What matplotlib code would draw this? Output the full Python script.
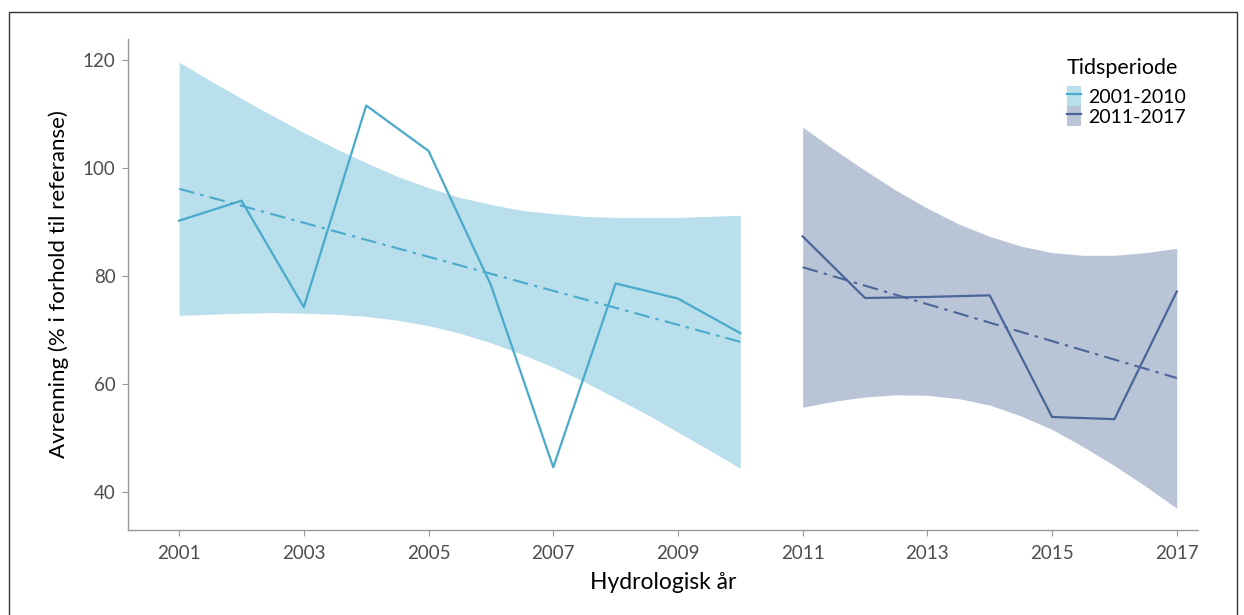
import numpy as np
import matplotlib
matplotlib.use("Agg")
import matplotlib.pyplot as plt
from matplotlib.patches import Patch, Rectangle
from matplotlib.lines import Line2D

plt.rcParams['font.family'] = ['Lato', 'DejaVu Sans']

# Runoff per hydrological year (% of reference)
years_p1 = [2001, 2002, 2003, 2004, 2005, 2006, 2007, 2008, 2009, 2010]
runoff_p1 = [90.2, 93.9, 74.2, 111.5, 103.1, 78.3, 44.6, 78.6, 75.8, 69.4]
years_p2 = [2011, 2012, 2013, 2014, 2015, 2016, 2017]
runoff_p2 = [87.3, 75.9, 76.1, 76.4, 53.9, 53.5, 77.1]

# Linear trend lines (read at period ends)
trend_x1 = [2001, 2010]
trend_y1 = [96.1, 67.8]
trend_x2 = [2011, 2017]
trend_y2 = [81.6, 61.1]

# Confidence bands, read every half year
band_x1 = np.arange(2001, 2010.01, 0.5)
band_hi1 = [119.5, 116.1, 112.8, 109.6, 106.5, 103.6, 100.9, 98.4, 96.3, 94.5,
            93.2, 92.1, 91.5, 91.0, 90.8, 90.8, 90.8, 91.0, 91.2]
band_lo1 = [72.7, 72.9, 73.1, 73.2, 73.1, 72.9, 72.5, 71.8, 70.8, 69.4,
            67.6, 65.5, 63.1, 60.4, 57.4, 54.4, 51.1, 47.8, 44.4]
band_x2 = np.arange(2011, 2017.01, 0.5)
band_hi2 = [107.5, 103.4, 99.5, 95.8, 92.5, 89.6, 87.3, 85.5, 84.3, 83.8, 83.8, 84.3, 85.1]
band_lo2 = [55.7, 56.8, 57.6, 58.0, 57.9, 57.3, 56.1, 54.1, 51.6, 48.4, 44.9, 41.1, 37.0]

periods = ['2001-2010', '2011-2017']
line_col = ['#4aaacb', '#4a6698']
band_col = ['#b8dfeb', '#bac4d7']

fig = plt.figure(figsize=(12.44, 6.15), dpi=100)
ax = fig.add_axes([0.1029, 0.1382, 0.8601, 0.7984])

ax.fill_between(band_x1, band_lo1, band_hi1, color=band_col[0], lw=0)
ax.fill_between(band_x2, band_lo2, band_hi2, color=band_col[1], lw=0)

dashdot = (0, (7.5, 3, 1.6, 3))
ax.plot(trend_x1, trend_y1, color=line_col[0], lw=1.5, linestyle=dashdot)
ax.plot(trend_x2, trend_y2, color=line_col[1], lw=1.5, linestyle=dashdot)
ax.plot(years_p1, runoff_p1, color=line_col[0], lw=1.6)
ax.plot(years_p2, runoff_p2, color=line_col[1], lw=1.6)

ax.set_xlim(2000.18, 2017.34)
ax.set_ylim(33.0, 123.8)
ax.set_xticks([2001, 2003, 2005, 2007, 2009, 2011, 2013, 2015, 2017])
ax.set_yticks([40, 60, 80, 100, 120])

for s in ['top', 'right']:
    ax.spines[s].set_visible(False)
for s in ['left', 'bottom']:
    ax.spines[s].set_color('#9a9a9a')
    ax.spines[s].set_linewidth(1.0)
ax.tick_params(colors='#9a9a9a', labelcolor='#4d4d4d', labelsize=13.5,
               length=4, width=0.8)
ax.tick_params(axis='x', pad=7)
ax.tick_params(axis='y', pad=5)

ax.set_xlabel('Hydrologisk år', fontsize=16.5, color='black', labelpad=7)
ax.set_ylabel('Avrenning (% i forhold til referanse)', fontsize=16,
              color='black', labelpad=10)

handles = [(Patch(facecolor=band_col[i], edgecolor='none'),
            Line2D([], [], color=line_col[i], lw=1.6)) for i in range(2)]
leg = fig.legend(handles, periods, title='Tidsperiode', loc='upper left',
                 bbox_to_anchor=(1059 / 1244, 1 - 50 / 615), frameon=False,
                 fontsize=14, title_fontsize=15.5, handlelength=0.75,
                 handleheight=1.2, handletextpad=0.35, labelspacing=0.0,
                 borderaxespad=0, alignment='left')
# a little space between legend title and keys
leg._legend_box.sep = 6

# thin frame around the whole figure
fig.patches.append(Rectangle((9 / 1244, -0.1), 1228 / 1244, 1.1 - 12 / 615,
                             transform=fig.transFigure, fill=False,
                             edgecolor='#333333', lw=1.0))

fig.savefig('out.png', dpi=100)
